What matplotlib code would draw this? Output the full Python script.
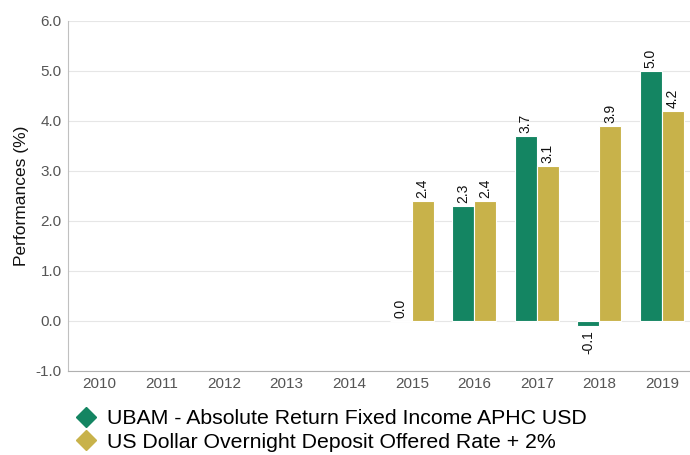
import numpy as np
import matplotlib.pyplot as plt
from matplotlib.lines import Line2D

years = ['2010', '2011', '2012', '2013', '2014', '2015', '2016', '2017', '2018', '2019']
fund = [np.nan, np.nan, np.nan, np.nan, np.nan, 0.0, 2.3, 3.7, -0.1, 5.0]
bench = [np.nan, np.nan, np.nan, np.nan, np.nan, 2.4, 2.4, 3.1, 3.9, 4.2]
fund_name = 'UBAM - Absolute Return Fixed Income APHC USD'
bench_name = 'US Dollar Overnight Deposit Offered Rate + 2%'

green = '#148562'
gold = '#c8b24a'

plt.rcParams['font.family'] = ['Liberation Sans', 'DejaVu Sans']

fig = plt.figure(figsize=(6.9, 4.55), dpi=100)
# plot area runs slightly past the right edge of the image
ax = fig.add_axes([68 / 690, 1 - 371 / 455, 625 / 690, 350 / 455])

x = np.arange(len(years))
w = 0.35
series = [(fund, green, -w / 2), (bench, gold, w / 2)]
for vals, col, off in series:
    ax.bar(x + off, vals, width=w, color=col, edgecolor='white', linewidth=0.8, zorder=3)
    for xi, v in zip(x, vals):
        if np.isnan(v):
            continue
        if v < 0:
            ax.text(xi + off, v - 0.08, f'{v:.1f}', rotation=90, ha='center', va='top',
                    fontsize=10, color='#111111')
        else:
            ax.text(xi + off, v + 0.06, f'{v:.1f}', rotation=90, ha='center', va='bottom',
                    fontsize=10, color='#111111')

ax.set_xlim(-0.5, len(years) - 0.5)
ax.set_ylim(-1, 6)
ax.set_yticks(np.arange(-1, 7, 1))
ax.set_yticklabels([f'{t:.1f}' for t in np.arange(-1, 7, 1)])
ax.set_xticks(x)
ax.set_xticklabels(years)
ax.tick_params(length=0, labelsize=11, colors='#555555')
ax.tick_params(axis='y', pad=4.5)
ax.tick_params(axis='x', pad=4)
ax.grid(axis='y', color='#e6e6e6', linewidth=0.8, zorder=0)
for s in ['top', 'right']:
    ax.spines[s].set_visible(False)
ax.spines['left'].set_color('#c0c0c0')
ax.spines['bottom'].set_color('#b0b0b0')
ax.set_ylabel('Performances (%)', fontsize=12.5, color='#111111')
ax.yaxis.set_label_coords(-0.062, 0.5)

handles = [Line2D([], [], marker='D', color=green, linestyle='none', markersize=10),
           Line2D([], [], marker='D', color=gold, linestyle='none', markersize=10)]
fig.legend(handles, [fund_name, bench_name], loc='upper left', bbox_to_anchor=(0.1087, 0.101),
           frameon=False, fontsize=15.3, handletextpad=0.5, labelspacing=0.22,
           handlelength=1.0, borderaxespad=0, borderpad=0)

fig.savefig('out.png', dpi=100)
